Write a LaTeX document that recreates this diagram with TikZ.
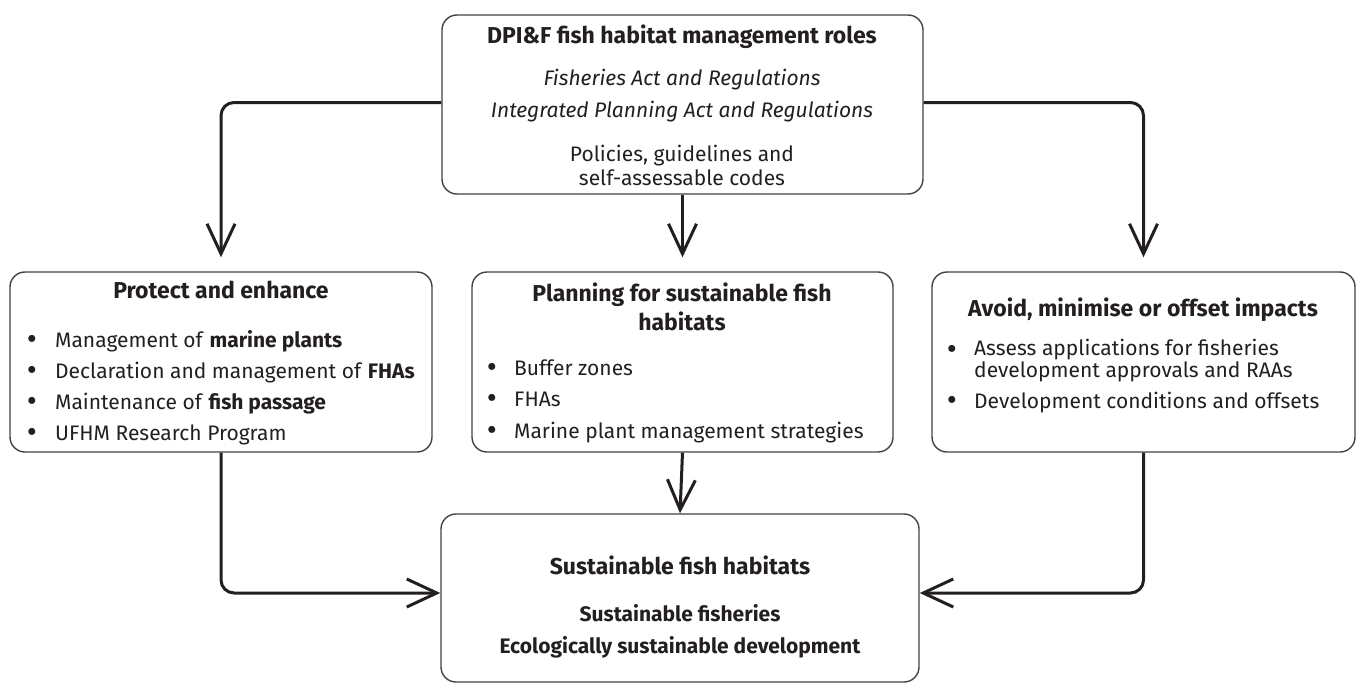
\documentclass[tikz,border=0pt]{standalone}
\usepackage{fontspec}
\setmainfont{Fira Sans}
\usetikzlibrary{%
  arrows.meta,%
  positioning%
}
\definecolor{ink}{HTML}{231F20}
\tikzset{>={Straight Barb[length=30pt,width=28pt,line width=3pt]},%
  roundbox/.style={draw=ink!85,line width=1.4pt,rounded corners=15pt,inner sep=0pt},%
  flow/.style={->,line width=3pt,draw=ink,rounded corners=13pt},%
  head/.style={font=\bfseries\fontsize{23}{29}\selectfont,text=ink,align=center},%
  subhead/.style={font=\bfseries\fontsize{21}{24}\selectfont,text=ink,align=center},%
  body/.style={font=\fontsize{21}{24}\selectfont,text=ink,align=center},%
  bodyit/.style={font=\itshape\fontsize{21}{24}\selectfont,text=ink,align=center},%
  dot/.style={font=\fontsize{31}{31}\selectfont,text=ink,inner sep=0pt,anchor=base},%
  item/.style={font=\fontsize{21}{20}\selectfont,text=ink,anchor=base west,inner sep=0pt,
    align=left}}

\begin{document}
\begin{tikzpicture}[x=1pt,y=-1pt]
  \useasboundingbox (0,0) rectangle (1360,688);

  % boxes
  \node[roundbox,minimum width=481pt,minimum height=179pt] (roles) at (682.5,104.5) {};
  \node[roundbox,minimum width=422pt,minimum height=180pt] (protect) at (221,362) {};
  \node[roundbox,minimum width=421pt,minimum height=180pt] (planning) at (682.5,362) {};
  \node[roundbox,minimum width=423pt,minimum height=180pt] (avoid) at (1143.5,362) {};
  \node[roundbox,minimum width=478pt,minimum height=168pt] (outcome) at (680,598) {};

  % management roles
  \node[head] (rolestitle) at (682,37) {DPI\&F fish habitat management roles};
  \node[bodyit] (fishact) at (682,80) {Fisheries Act and Regulations};
  \node[bodyit] (ipact) at (682,112) {Integrated Planning Act and Regulations};
  \node[body] (policies) at (682,165) {Policies, guidelines and\\self-assessable codes};

  % protect and enhance
  \node[head] (protecttitle) at (221,290) {Protect and enhance};
  \foreach \y/\txt [count=\i] in {340/{Management of \textbf{marine plants}},%
      371/{Declaration and management of \textbf{FHAs}},%
      402/{Maintenance of \textbf{fish passage}},%
      433/{UFHM Research Program}} {
    \node[dot] (protectdot\i) at (32,\y+9) {\textbullet};
    \node[item] (protectitem\i) at (55,\y+7) {\txt};
  }

  % planning
  \node[head] (planningtitle) at (682,307) {Planning for sustainable fish\\habitats};
  \foreach \y/\txt [count=\i] in {368/{Buffer zones},399/{FHAs},%
      431/{Marine plant management strategies}} {
    \node[dot] (planningdot\i) at (492,\y+9) {\textbullet};
    \node[item] (planningitem\i) at (514,\y+7) {\txt};
  }

  % avoid impacts
  \node[head] (avoidtitle) at (1143,310) {Avoid, minimise or offset impacts};
  \node[dot] (avoiddot1) at (952,359) {\textbullet};
  \node[item] (avoiditem1) at (974,377)
    {Assess applications for fisheries\\development approvals and RAAs};
  \node[dot] (avoiddot2) at (952,410) {\textbullet};
  \node[item] (avoiditem2) at (974,408) {Development conditions and offsets};

  % outcomes
  \node[head] (outcometitle) at (680,565) {Sustainable fish habitats};
  \node[subhead] (fisheries) at (680,613) {Sustainable fisheries};
  \node[subhead] (esd) at (680,647) {Ecologically sustainable development};

  % connectors
  \draw[flow,shorten >=14pt] ([yshift=2pt]roles.west) -| (protect.north);
  \draw[flow,shorten >=14pt] ([yshift=2pt]roles.east) -| (avoid.north);
  \draw[flow,shorten >=14pt] (roles.south) -- (planning.north);
  \draw[flow] (protect.south) |- ([yshift=5pt]outcome.west);
  \draw[flow] (avoid.south) |- ([yshift=5pt]outcome.east);
  \draw[flow] (planning.south) -- (outcome.north);
\end{tikzpicture}
\end{document}
